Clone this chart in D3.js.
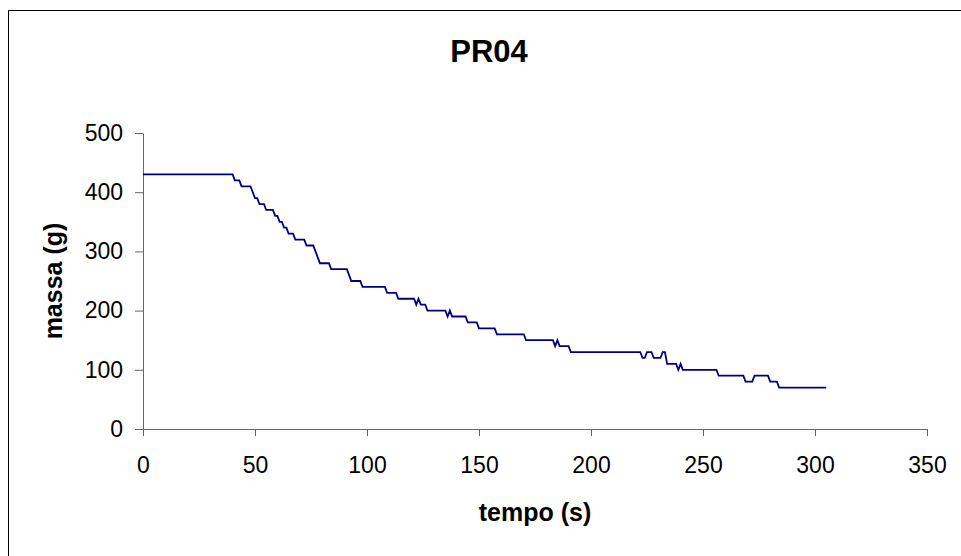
<!DOCTYPE html>
<html>
<head>
<meta charset="utf-8">
<script src="https://cdn.jsdelivr.net/npm/d3@7"></script>
<style>
  html, body { margin: 0; padding: 0; background: #fff; }
  svg { display: block; }
</style>
</head>
<body>
<svg id="chart" width="961" height="556"></svg>
<script>
// dati (tempo in s, massa in g)
const tempo = [0, 40, 41, 43, 44, 48, 49, 50, 51, 52, 54, 55, 58, 59, 60, 61, 62, 63, 64, 65, 67, 68, 72, 73, 76, 77, 78, 79, 83, 84, 91, 92, 93, 97, 98, 108, 109, 113, 114, 121, 122, 123, 124, 126, 127, 135, 136, 137, 138, 144, 145, 149, 150, 157, 158, 170, 171, 183, 184, 185, 186, 190, 191, 222, 223, 224, 225, 227, 228, 231, 232, 233, 234, 238, 239, 240, 241, 256, 257, 268, 269, 272, 273, 279, 280, 283, 284, 305];
const massa = [430, 430, 420, 420, 410, 410, 400, 390, 390, 380, 380, 370, 370, 360, 360, 350, 350, 340, 340, 330, 330, 320, 320, 310, 310, 300, 290, 280, 280, 270, 270, 260, 250, 250, 240, 240, 230, 230, 220, 220, 210, 220, 210, 210, 200, 200, 190, 200, 190, 190, 180, 180, 170, 170, 160, 160, 150, 150, 140, 150, 140, 140, 130, 130, 120, 120, 130, 130, 120, 120, 130, 130, 110, 110, 100, 110, 100, 100, 90, 90, 80, 80, 90, 90, 80, 80, 70, 70];
const xTicks = [0, 50, 100, 150, 200, 250, 300, 350];
const yTicks = [0, 100, 200, 300, 400, 500];
const titolo = "PR04";
const xTitolo = "tempo (s)";
const yTitolo = "massa (g)";

const svg = d3.select("#chart");
const plot = { left: 143, right: 927, top: 133, bottom: 429 };
const axisColor = "#666666";
const lineColor = "#000080";
const font = "Arial, 'Liberation Sans', sans-serif";

const x = d3.scaleLinear([0, 350], [plot.left, plot.right]);
const y = d3.scaleLinear([0, 500], [plot.bottom, plot.top]);

// cornice del grafico (tagliata a destra e in basso)
svg.append("rect")
  .attr("x", 8.5)
  .attr("y", 10.5)
  .attr("width", 1000)
  .attr("height", 600)
  .attr("fill", "#fff")
  .attr("stroke", "#000")
  .attr("stroke-width", 1);

// titolo
svg.append("text")
  .attr("x", 489)
  .attr("y", 62)
  .attr("text-anchor", "middle")
  .attr("font-family", font)
  .attr("font-weight", "bold")
  .attr("font-size", 31)
  .text(titolo);

// asse x
svg.append("g")
  .attr("class", "x-axis")
  .attr("transform", `translate(0, ${plot.bottom})`)
  .call(d3.axisBottom(x).tickValues(xTicks).tickSize(7).tickPadding(21).tickSizeOuter(0))
  .call((g) => {
    g.select(".domain").attr("stroke", axisColor);
    g.selectAll(".tick line").attr("stroke", axisColor);
    g.selectAll(".tick text")
      .attr("font-family", font)
      .attr("font-size", 23)
      .attr("fill", "#000");
  });

// asse y
svg.append("g")
  .attr("class", "y-axis")
  .attr("transform", `translate(${plot.left}, 0)`)
  .call(d3.axisLeft(y).tickValues(yTicks).tickSize(8).tickPadding(12).tickSizeOuter(0))
  .call((g) => {
    g.select(".domain").attr("stroke", axisColor);
    g.selectAll(".tick line").attr("stroke", axisColor);
    g.selectAll(".tick text")
      .attr("font-family", font)
      .attr("font-size", 23)
      .attr("fill", "#000");
  });

// titoli degli assi
svg.append("text")
  .attr("x", 535)
  .attr("y", 521)
  .attr("text-anchor", "middle")
  .attr("font-family", font)
  .attr("font-weight", "bold")
  .attr("font-size", 25)
  .text(xTitolo);

svg.append("text")
  .attr("transform", `translate(62, 281) rotate(-90)`)
  .attr("text-anchor", "middle")
  .attr("font-family", font)
  .attr("font-weight", "bold")
  .attr("font-size", 25)
  .text(yTitolo);

// serie
const punti = tempo.map((t, i) => [t, massa[i]]);
const line = d3.line()
  .x((d) => x(d[0]))
  .y((d) => y(d[1]));

svg.append("path")
  .datum(punti)
  .attr("d", line)
  .attr("fill", "none")
  .attr("stroke", lineColor)
  .attr("stroke-width", 1.8)
  .attr("stroke-linejoin", "miter");
</script>
</body>
</html>
